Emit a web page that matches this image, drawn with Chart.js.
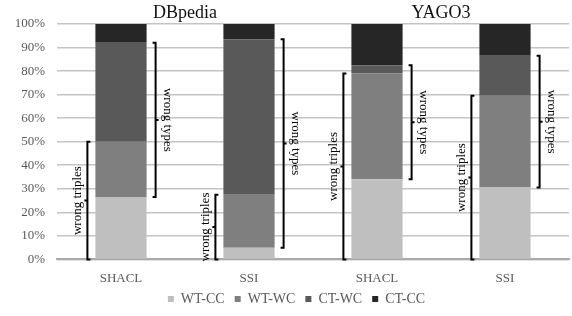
<!DOCTYPE html>
<html>
<head>
<meta charset="utf-8">
<script src="https://cdn.jsdelivr.net/npm/chart.js@4/dist/chart.umd.min.js"></script>
<style>
html,body{margin:0;padding:0;background:#fff;}
#wrap{width:572px;height:316px;position:relative;}
</style>
</head>
<body>
<div id="wrap"><canvas id="c" width="572" height="316"></canvas></div>
<script>
const categories = ["SHACL", "SSI", "SHACL", "SSI"];
const groups = ["DBpedia", "YAGO3"];
const wtcc = [26.5, 5, 34, 30.5];
const wtwc = [23.5, 22.5, 45, 39];
const ctwc = [42, 66, 3.5, 17];
const ctcc = [8, 6.5, 17.5, 13.5];
const seriesNames = ["WT-CC", "WT-WC", "CT-WC", "CT-CC"];
const colors = ["#bfbfbf", "#7f7f7f", "#595959", "#262626"];
const yTicks = [0,10,20,30,40,50,60,70,80,90,100];

const FONT = "'Liberation Serif', 'DejaVu Serif', serif";
const LB = 15;

const annot = {
  id: 'annot',
  afterDatasetsDraw(chart) {
    const ctx = chart.ctx;
    const x = chart.scales.x, y = chart.scales.y;
    const meta = chart.getDatasetMeta(0);
    ctx.save();
    ctx.fillStyle = '#111';
    ctx.font = "18px " + FONT;
    ctx.textAlign = 'center';
    ctx.textBaseline = 'middle';
    groups.forEach((g, gi) => {
      const cx = (x.getPixelForValue(gi*2) + x.getPixelForValue(gi*2+1)) / 2;
      ctx.fillText(g, cx, 13);
    });
    ctx.strokeStyle = '#000';
    ctx.lineWidth = 2;
    ctx.font = "13px " + FONT;
    function bracket(bx, v0, v1, dir, label) {
      const y0 = y.getPixelForValue(v0), y1 = y.getPixelForValue(v1);
      const ym = (y0 + y1) / 2;
      ctx.beginPath();
      ctx.moveTo(bx - dir*3, y0);
      ctx.lineTo(bx, y0);
      ctx.lineTo(bx, y1);
      ctx.lineTo(bx - dir*3, y1);
      ctx.moveTo(bx, ym);
      ctx.lineTo(bx + dir*3, ym);
      ctx.stroke();
      ctx.save();
      ctx.translate(bx + dir*(dir < 0 ? 10 : 12), ym);
      ctx.rotate(dir < 0 ? -Math.PI/2 : Math.PI/2);
      ctx.fillStyle = '#000';
      ctx.textAlign = 'center';
      ctx.textBaseline = 'middle';
      ctx.fillText(label, 0, 0);
      ctx.restore();
    }
    categories.forEach((c, i) => {
      const bar = meta.data[i];
      const half = bar.width / 2;
      const cx = bar.x;
      const wtTop = wtcc[i] + wtwc[i];
      bracket(cx - half - 8, 0, wtTop, -1, 'wrong triples');
      bracket(cx + half + 9, wtcc[i], wtTop + ctwc[i], 1, 'wrong types');
    });
    ctx.restore();
  }
};

const legendShift = {
  id: 'legendShift',
  afterLayout(chart) {
    const lg = chart.legend;
    if (lg) { lg.top -= LB; lg.bottom -= LB; lg.left += 12; lg.right += 12; }
  }
};

const vals = [wtcc, wtwc, ctwc, ctcc];
new Chart(document.getElementById('c'), {
  type: 'bar',
  data: {
    labels: categories,
    datasets: seriesNames.map((n, k) => ({
      label: n,
      data: vals[k],
      backgroundColor: colors[k],
      borderWidth: 0,
      categoryPercentage: 1,
      barPercentage: 0.4
    }))
  },
  options: {
    responsive: false,
    animation: false,
    devicePixelRatio: 1,
    layout: { padding: { top: 24, right: 3, left: 0, bottom: -LB } },
    plugins: {
      legend: {
        position: 'bottom',
        labels: {
          font: { family: FONT, size: 14 },
          color: '#595959',
          boxWidth: 6,
          boxHeight: 6,
          padding: 10
        }
      },
      tooltip: { enabled: false }
    },
    scales: {
      x: {
        stacked: true,
        grid: { display: false, drawTicks: false },
        border: { color: '#aaaaaa', width: 2 },
        ticks: { font: { family: FONT, size: 13 }, color: '#595959', padding: 11 }
      },
      y: {
        stacked: true,
        min: 0, max: 100,
        afterBuildTicks(s) { s.ticks = yTicks.map(v => ({ value: v })); },
        afterFit(s) { s.width = 57; },
        grid: { color: '#c4c4c4', lineWidth: 1.5, drawTicks: false },
        border: { display: false },
        ticks: {
          font: { family: FONT, size: 13 }, color: '#595959', padding: 12,
          callback: v => v + '%'
        }
      }
    }
  },
  plugins: [annot, legendShift]
});
</script>
</body>
</html>
